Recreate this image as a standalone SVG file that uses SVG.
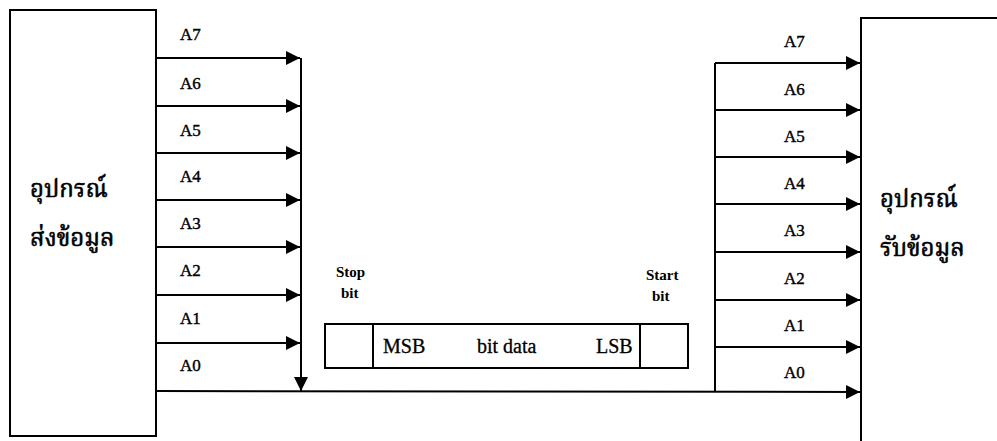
<svg xmlns="http://www.w3.org/2000/svg" width="997" height="441" viewBox="0 0 997 441">
<defs>
<marker id="ah" viewBox="0 0 10 10" refX="10" refY="5" markerWidth="15" markerHeight="14" markerUnits="userSpaceOnUse" orient="auto">
<path d="M0,0 L10,5 L0,10 Z" fill="#000"/>
</marker>
</defs>
<style>
.ln{stroke:#000;stroke-width:2;fill:none}
.bx{stroke:#000;stroke-width:2;fill:#fff}
.lb{font-family:"Liberation Serif","Times New Roman",serif;font-size:17px;fill:#000;stroke:#000;stroke-width:0.4}
.sm{font-family:"Liberation Serif","Times New Roman",serif;font-size:15px;font-weight:bold;fill:#000}
.th{font-family:"Noto Serif Thai","Noto Sans Thai","Noto Sans Thai Looped","Loma","Garuda","Liberation Serif",serif;font-size:24px;fill:#000;stroke:#000;stroke-width:0.6}
.fr{font-family:"Liberation Serif","Times New Roman",serif;font-size:20px;fill:#000;stroke:#000;stroke-width:0.3}
</style>
<rect width="997" height="441" fill="#fff"/>
<g id="sender">
<rect class="bx" x="10" y="10" width="146" height="426"/>
<text class="th" x="30" y="197">อุปกรณ์</text>
<text class="th" x="30" y="246">ส่งข้อมูล</text>
</g>
<g id="receiver">
<path class="ln" d="M998,18 L861,18 L861,442"/>
<text class="th" x="880" y="207">อุปกรณ์</text>
<text class="th" x="880" y="256">รับข้อมูล</text>
</g>
<g id="frame">
<rect class="bx" x="325" y="324" width="363" height="44"/>
<line class="ln" x1="373" y1="324" x2="373" y2="368"/>
<line class="ln" x1="640" y1="324" x2="640" y2="368"/>
<text class="fr" x="383" y="353">MSB</text>
<text class="fr" x="477" y="353">bit data</text>
<text class="fr" x="596" y="353">LSB</text>
<text class="sm" x="336" y="277">Stop</text>
<text class="sm" x="341" y="298">bit</text>
<text class="sm" x="646" y="280">Start</text>
<text class="sm" x="652" y="301">bit</text>
</g>
<g id="connectors">
<line class="ln" x1="156" y1="58" x2="300" y2="58" marker-end="url(#ah)"/>
<line class="ln" x1="156" y1="106" x2="300" y2="106" marker-end="url(#ah)"/>
<line class="ln" x1="156" y1="153" x2="300" y2="153" marker-end="url(#ah)"/>
<line class="ln" x1="156" y1="200" x2="300" y2="200" marker-end="url(#ah)"/>
<line class="ln" x1="156" y1="247" x2="300" y2="247" marker-end="url(#ah)"/>
<line class="ln" x1="156" y1="295" x2="300" y2="295" marker-end="url(#ah)"/>
<line class="ln" x1="156" y1="343" x2="300" y2="343" marker-end="url(#ah)"/>
<line class="ln" x1="301" y1="58" x2="301" y2="391" marker-end="url(#ah)"/>
<line class="ln" x1="156" y1="391" x2="860" y2="392" marker-end="url(#ah)"/>
<line class="ln" x1="715" y1="63" x2="715" y2="392"/>
<line class="ln" x1="715" y1="63" x2="860" y2="63" marker-end="url(#ah)"/>
<line class="ln" x1="715" y1="110" x2="860" y2="110" marker-end="url(#ah)"/>
<line class="ln" x1="715" y1="157" x2="860" y2="157" marker-end="url(#ah)"/>
<line class="ln" x1="715" y1="204" x2="860" y2="204" marker-end="url(#ah)"/>
<line class="ln" x1="715" y1="252" x2="860" y2="252" marker-end="url(#ah)"/>
<line class="ln" x1="715" y1="300" x2="860" y2="300" marker-end="url(#ah)"/>
<line class="ln" x1="715" y1="347" x2="860" y2="347" marker-end="url(#ah)"/>
</g>
<g id="labels">
<text class="lb" x="180" y="40">A7</text>
<text class="lb" x="180" y="89">A6</text>
<text class="lb" x="180" y="136">A5</text>
<text class="lb" x="180" y="182">A4</text>
<text class="lb" x="180" y="229">A3</text>
<text class="lb" x="180" y="276">A2</text>
<text class="lb" x="180" y="324">A1</text>
<text class="lb" x="180" y="371">A0</text>
<text class="lb" x="784" y="47">A7</text>
<text class="lb" x="784" y="95">A6</text>
<text class="lb" x="784" y="142">A5</text>
<text class="lb" x="784" y="189">A4</text>
<text class="lb" x="784" y="236">A3</text>
<text class="lb" x="784" y="284">A2</text>
<text class="lb" x="784" y="331">A1</text>
<text class="lb" x="784" y="378">A0</text>
</g>
</svg>
